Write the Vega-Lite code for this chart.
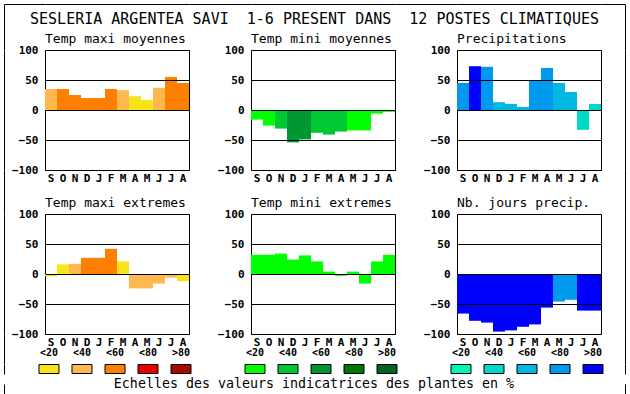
{
  "$schema": "https://vega.github.io/schema/vega-lite/v6.json",
  "background": "white",
  "padding": {"left": 4, "top": 4, "right": 4, "bottom": 4},
  "autosize": {"type": "pad"},
  "title": {
    "text": "SESLERIA ARGENTEA SAVI\u00a0 1-6 PRESENT DANS\u00a0 12 POSTES CLIMATIQUES",
    "anchor": "middle",
    "frame": "bounds",
    "fontSize": 15,
    "baseline": "alphabetic",
    "offset": -34.6
  },
  "config": {
    "font": "DejaVu Sans Mono",
    "view": {"stroke": "black", "strokeWidth": 1},
    "point": {"size": 0},
    "axis": {
      "labelFont": "DejaVu Sans Mono",
      "labelFontSize": 11,
      "labelFontWeight": "bold",
      "labelColor": "black",
      "ticks": false,
      "tickSize": 0,
      "domain": false,
      "domainColor": "black",
      "domainWidth": 1,
      "gridColor": "black",
      "gridOpacity": 1,
      "gridWidth": 1,
      "labelFlush": false,
      "labelOverlap": false
    },
    "title": {
      "font": "DejaVu Sans Mono",
      "fontSize": 13,
      "fontWeight": "normal",
      "color": "black",
      "anchor": "start",
      "frame": "group",
      "baseline": "alphabetic",
      "offset": -1.5
    }
  },
  "datasets": {
    "p1": [
      {"m": "Sep", "v": 35, "c": "maxi <40"},
      {"m": "Oct", "v": 35, "c": "maxi <60"},
      {"m": "Nov", "v": 25, "c": "maxi <60"},
      {"m": "Dec", "v": 20, "c": "maxi <60"},
      {"m": "Jan", "v": 20, "c": "maxi <60"},
      {"m": "Feb", "v": 35, "c": "maxi <60"},
      {"m": "Mar", "v": 33, "c": "maxi <40"},
      {"m": "Apr", "v": 23, "c": "maxi <20"},
      {"m": "May", "v": 17, "c": "maxi <20"},
      {"m": "Jun", "v": 37, "c": "maxi <40"},
      {"m": "Jul", "v": 55, "c": "maxi <60"},
      {"m": "Aug", "v": 45, "c": "maxi <60"}
    ],
    "p2": [
      {"m": "Sep", "v": -16, "c": "mini <20"},
      {"m": "Oct", "v": -26, "c": "mini <20"},
      {"m": "Nov", "v": -31, "c": "mini <40"},
      {"m": "Dec", "v": -54, "c": "mini <60"},
      {"m": "Jan", "v": -49, "c": "mini <60"},
      {"m": "Feb", "v": -38, "c": "mini <40"},
      {"m": "Mar", "v": -41, "c": "mini <40"},
      {"m": "Apr", "v": -36, "c": "mini <40"},
      {"m": "May", "v": -34, "c": "mini <20"},
      {"m": "Jun", "v": -34, "c": "mini <20"},
      {"m": "Jul", "v": -6, "c": "mini <20"},
      {"m": "Aug", "v": -3, "c": "mini <20"}
    ],
    "p3": [
      {"m": "Sep", "v": 45, "c": "prec <80"},
      {"m": "Oct", "v": 73, "c": "prec >80"},
      {"m": "Nov", "v": 72, "c": "prec <80"},
      {"m": "Dec", "v": 13, "c": "prec <60"},
      {"m": "Jan", "v": 10, "c": "prec <60"},
      {"m": "Feb", "v": 5, "c": "prec <60"},
      {"m": "Mar", "v": 50, "c": "prec <80"},
      {"m": "Apr", "v": 70, "c": "prec <80"},
      {"m": "May", "v": 45, "c": "prec <60"},
      {"m": "Jun", "v": 30, "c": "prec <60"},
      {"m": "Jul", "v": -33, "c": "prec <40"},
      {"m": "Aug", "v": 10, "c": "prec <40"}
    ],
    "p4": [
      {"m": "Sep", "v": -4, "c": "maxi <20"},
      {"m": "Oct", "v": 16, "c": "maxi <20"},
      {"m": "Nov", "v": 17, "c": "maxi <40"},
      {"m": "Dec", "v": 27, "c": "maxi <60"},
      {"m": "Jan", "v": 27, "c": "maxi <60"},
      {"m": "Feb", "v": 42, "c": "maxi <60"},
      {"m": "Mar", "v": 21, "c": "maxi <20"},
      {"m": "Apr", "v": -24, "c": "maxi <40"},
      {"m": "May", "v": -24, "c": "maxi <40"},
      {"m": "Jun", "v": -16, "c": "maxi <40"},
      {"m": "Jul", "v": -6, "c": "maxi <40"},
      {"m": "Aug", "v": -12, "c": "maxi <20"}
    ],
    "p5": [
      {"m": "Sep", "v": 32, "c": "mini <20"},
      {"m": "Oct", "v": 32, "c": "mini <20"},
      {"m": "Nov", "v": 34, "c": "mini <20"},
      {"m": "Dec", "v": 24, "c": "mini <20"},
      {"m": "Jan", "v": 31, "c": "mini <20"},
      {"m": "Feb", "v": 21, "c": "mini <20"},
      {"m": "Mar", "v": 4, "c": "mini <20"},
      {"m": "Apr", "v": -3, "c": "mini <20"},
      {"m": "May", "v": 4, "c": "mini <20"},
      {"m": "Jun", "v": -16, "c": "mini <20"},
      {"m": "Jul", "v": 21, "c": "mini <20"},
      {"m": "Aug", "v": 32, "c": "mini <20"}
    ],
    "p6": [
      {"m": "Sep", "v": -66, "c": "prec >80"},
      {"m": "Oct", "v": -78, "c": "prec >80"},
      {"m": "Nov", "v": -81, "c": "prec >80"},
      {"m": "Dec", "v": -96, "c": "prec >80"},
      {"m": "Jan", "v": -94, "c": "prec >80"},
      {"m": "Feb", "v": -88, "c": "prec >80"},
      {"m": "Mar", "v": -84, "c": "prec >80"},
      {"m": "Apr", "v": -56, "c": "prec >80"},
      {"m": "May", "v": -46, "c": "prec <80"},
      {"m": "Jun", "v": -43, "c": "prec <80"},
      {"m": "Jul", "v": -61, "c": "prec >80"},
      {"m": "Aug", "v": -61, "c": "prec >80"}
    ],
    "leg1": [
      {"k": 1, "c": "maxi <20", "lab": "<20"},
      {"k": 2, "c": "maxi <40", "lab": "<40"},
      {"k": 3, "c": "maxi <60", "lab": "<60"},
      {"k": 4, "c": "maxi <80", "lab": "<80"},
      {"k": 5, "c": "maxi >80", "lab": ">80"}
    ],
    "leg2": [
      {"k": 1, "c": "mini <20", "lab": "<20"},
      {"k": 2, "c": "mini <40", "lab": "<40"},
      {"k": 3, "c": "mini <60", "lab": "<60"},
      {"k": 4, "c": "mini <80", "lab": "<80"},
      {"k": 5, "c": "mini >80", "lab": ">80"}
    ],
    "leg3": [
      {"k": 1, "c": "prec <20", "lab": "<20"},
      {"k": 2, "c": "prec <40", "lab": "<40"},
      {"k": 3, "c": "prec <60", "lab": "<60"},
      {"k": 4, "c": "prec <80", "lab": "<80"},
      {"k": 5, "c": "prec >80", "lab": ">80"}
    ]
  },
  "bounds": "flush",
  "align": "each",
  "spacing": 0,
  "columns": 7,
  "concat": [
    {"width": 41, "height": 45.5, "view": {"stroke": null}, "data": {"values": [{}]}, "mark": {"type": "point", "opacity": 0},
     "encoding": {"y": {"datum": 0, "type": "quantitative", "scale": {"domain": [0, 1]}, "axis": {"orient": "left", "labels": false, "title": null, "domain": true, "grid": true, "values": [1]}}}},
    {"width": 144, "height": 45.5, "view": {"stroke": null}, "data": {"values": [{}]}, "mark": {"type": "point", "opacity": 0},
     "encoding": {"y": {"datum": 0, "type": "quantitative", "scale": {"domain": [0, 1]}, "axis": {"orient": "left", "labels": false, "title": null, "domain": false, "grid": true, "values": [1]}}}},
    {"width": 62, "height": 45.5, "view": {"stroke": null}, "data": {"values": [{}]}, "mark": {"type": "point", "opacity": 0},
     "encoding": {"y": {"datum": 0, "type": "quantitative", "scale": {"domain": [0, 1]}, "axis": {"orient": "left", "labels": false, "title": null, "domain": false, "grid": true, "values": [1]}}}},
    {"width": 144, "height": 45.5, "view": {"stroke": null}, "data": {"values": [{}]}, "mark": {"type": "point", "opacity": 0},
     "encoding": {"y": {"datum": 0, "type": "quantitative", "scale": {"domain": [0, 1]}, "axis": {"orient": "left", "labels": false, "title": null, "domain": false, "grid": true, "values": [1]}}}},
    {"width": 62, "height": 45.5, "view": {"stroke": null}, "data": {"values": [{}]}, "mark": {"type": "point", "opacity": 0},
     "encoding": {"y": {"datum": 0, "type": "quantitative", "scale": {"domain": [0, 1]}, "axis": {"orient": "left", "labels": false, "title": null, "domain": false, "grid": true, "values": [1]}}}},
    {"width": 144, "height": 45.5, "view": {"stroke": null}, "data": {"values": [{}]}, "mark": {"type": "point", "opacity": 0},
     "encoding": {"y": {"datum": 0, "type": "quantitative", "scale": {"domain": [0, 1]}, "axis": {"orient": "left", "labels": false, "title": null, "domain": false, "grid": true, "values": [1]}}}},
    {"width": 24, "height": 45.5, "view": {"stroke": null}, "data": {"values": [{}]}, "mark": {"type": "point", "opacity": 0},
     "encoding": {"y": {"datum": 0, "type": "quantitative", "scale": {"domain": [0, 1]}, "axis": {"orient": "right", "labels": false, "title": null, "domain": true, "grid": true, "values": [1]}}}},

    {"width": 41, "height": 120, "view": {"stroke": null}, "data": {"values": [{}]}, "mark": {"type": "point", "opacity": 0},
     "encoding": {"y": {"datum": 0, "type": "quantitative", "scale": {"domain": [0, 1]}, "axis": {"orient": "left", "labels": false, "grid": false, "title": null, "domain": true}}}},
    {
      "width": 144, "height": 120,
      "title": "Temp maxi moyennes",
      "data": {"name": "p1"},
      "mark": "bar",
      "encoding": {
        "x": {"field": "m", "type": "ordinal", "sort": ["Sep","Oct","Nov","Dec","Jan","Feb","Mar","Apr","May","Jun","Jul","Aug"], "scale": {"paddingInner": 0, "paddingOuter": 0}, "axis": {"title": null, "labelExpr": "upper(substring(datum.label,0,1))", "labelAngle": 0, "labelPadding": 2, "grid": false}},
        "y": {"field": "v", "type": "quantitative", "scale": {"domain": [-100, 100], "nice": false, "zero": false}, "axis": {"title": null, "values": [-100, -50, 0, 50, 100], "grid": true, "labelPadding": 7, "zindex": 1}},
        "color": {"field": "c", "type": "nominal", "legend": null, "scale": {"domain": ["maxi <20","maxi <40","maxi <60","maxi <80","maxi >80","mini <20","mini <40","mini <60","mini <80","mini >80","prec <20","prec <40","prec <60","prec <80","prec >80"], "range": ["#F9E41B","#FFB850","#FF8000","#E80000","#A60A00","#00FF00","#00C832","#009632","#007800","#006420","#00F7B4","#00D8C8","#00B8E0","#0099EE","#0000FF"]}}
      }
    },
    {"width": 0, "height": 0, "view": {"stroke": null}, "data": {"values": []}, "mark": "point", "encoding": {}},
    {
      "width": 144, "height": 120,
      "title": "Temp mini moyennes",
      "data": {"name": "p2"},
      "mark": "bar",
      "encoding": {
        "x": {"field": "m", "type": "ordinal", "sort": ["Sep","Oct","Nov","Dec","Jan","Feb","Mar","Apr","May","Jun","Jul","Aug"], "scale": {"paddingInner": 0, "paddingOuter": 0}, "axis": {"title": null, "labelExpr": "upper(substring(datum.label,0,1))", "labelAngle": 0, "labelPadding": 2, "grid": false}},
        "y": {"field": "v", "type": "quantitative", "scale": {"domain": [-100, 100], "nice": false, "zero": false}, "axis": {"title": null, "values": [-100, -50, 0, 50, 100], "grid": true, "labelPadding": 7, "zindex": 1}},
        "color": {"field": "c", "type": "nominal", "legend": null, "scale": {"domain": ["maxi <20","maxi <40","maxi <60","maxi <80","maxi >80","mini <20","mini <40","mini <60","mini <80","mini >80","prec <20","prec <40","prec <60","prec <80","prec >80"], "range": ["#F9E41B","#FFB850","#FF8000","#E80000","#A60A00","#00FF00","#00C832","#009632","#007800","#006420","#00F7B4","#00D8C8","#00B8E0","#0099EE","#0000FF"]}}
      }
    },
    {"width": 0, "height": 0, "view": {"stroke": null}, "data": {"values": []}, "mark": "point", "encoding": {}},
    {
      "width": 144, "height": 120,
      "title": "Precipitations",
      "data": {"name": "p3"},
      "mark": "bar",
      "encoding": {
        "x": {"field": "m", "type": "ordinal", "sort": ["Sep","Oct","Nov","Dec","Jan","Feb","Mar","Apr","May","Jun","Jul","Aug"], "scale": {"paddingInner": 0, "paddingOuter": 0}, "axis": {"title": null, "labelExpr": "upper(substring(datum.label,0,1))", "labelAngle": 0, "labelPadding": 2, "grid": false}},
        "y": {"field": "v", "type": "quantitative", "scale": {"domain": [-100, 100], "nice": false, "zero": false}, "axis": {"title": null, "values": [-100, -50, 0, 50, 100], "grid": true, "labelPadding": 7, "zindex": 1}},
        "color": {"field": "c", "type": "nominal", "legend": null, "scale": {"domain": ["maxi <20","maxi <40","maxi <60","maxi <80","maxi >80","mini <20","mini <40","mini <60","mini <80","mini >80","prec <20","prec <40","prec <60","prec <80","prec >80"], "range": ["#F9E41B","#FFB850","#FF8000","#E80000","#A60A00","#00FF00","#00C832","#009632","#007800","#006420","#00F7B4","#00D8C8","#00B8E0","#0099EE","#0000FF"]}}
      }
    },
    {"width": 24, "height": 120, "view": {"stroke": null}, "data": {"values": [{}]}, "mark": {"type": "point", "opacity": 0},
     "encoding": {"y": {"datum": 0, "type": "quantitative", "scale": {"domain": [0, 1]}, "axis": {"orient": "right", "labels": false, "grid": false, "title": null, "domain": true}}}},

    {"width": 41, "height": 44, "view": {"stroke": null}, "data": {"values": [{}]}, "mark": {"type": "point", "opacity": 0},
     "encoding": {"y": {"datum": 0, "type": "quantitative", "scale": {"domain": [0, 1]}, "axis": {"orient": "left", "labels": false, "grid": false, "title": null, "domain": true}}}},
    {"width": 0, "height": 0, "view": {"stroke": null}, "data": {"values": []}, "mark": "point", "encoding": {}},
    {"width": 0, "height": 0, "view": {"stroke": null}, "data": {"values": []}, "mark": "point", "encoding": {}},
    {"width": 0, "height": 0, "view": {"stroke": null}, "data": {"values": []}, "mark": "point", "encoding": {}},
    {"width": 0, "height": 0, "view": {"stroke": null}, "data": {"values": []}, "mark": "point", "encoding": {}},
    {"width": 0, "height": 0, "view": {"stroke": null}, "data": {"values": []}, "mark": "point", "encoding": {}},
    {"width": 24, "height": 44, "view": {"stroke": null}, "data": {"values": [{}]}, "mark": {"type": "point", "opacity": 0},
     "encoding": {"y": {"datum": 0, "type": "quantitative", "scale": {"domain": [0, 1]}, "axis": {"orient": "right", "labels": false, "grid": false, "title": null, "domain": true}}}},

    {"width": 41, "height": 120, "view": {"stroke": null}, "data": {"values": [{}]}, "mark": {"type": "point", "opacity": 0},
     "encoding": {"y": {"datum": 0, "type": "quantitative", "scale": {"domain": [0, 1]}, "axis": {"orient": "left", "labels": false, "grid": false, "title": null, "domain": true}}}},
    {
      "width": 144, "height": 120,
      "title": "Temp maxi extremes",
      "data": {"name": "p4"},
      "mark": "bar",
      "encoding": {
        "x": {"field": "m", "type": "ordinal", "sort": ["Sep","Oct","Nov","Dec","Jan","Feb","Mar","Apr","May","Jun","Jul","Aug"], "scale": {"paddingInner": 0, "paddingOuter": 0}, "axis": {"title": null, "labelExpr": "upper(substring(datum.label,0,1))", "labelAngle": 0, "labelPadding": 2, "grid": false}},
        "y": {"field": "v", "type": "quantitative", "scale": {"domain": [-100, 100], "nice": false, "zero": false}, "axis": {"title": null, "values": [-100, -50, 0, 50, 100], "grid": true, "labelPadding": 7, "zindex": 1}},
        "color": {"field": "c", "type": "nominal", "legend": null, "scale": {"domain": ["maxi <20","maxi <40","maxi <60","maxi <80","maxi >80","mini <20","mini <40","mini <60","mini <80","mini >80","prec <20","prec <40","prec <60","prec <80","prec >80"], "range": ["#F9E41B","#FFB850","#FF8000","#E80000","#A60A00","#00FF00","#00C832","#009632","#007800","#006420","#00F7B4","#00D8C8","#00B8E0","#0099EE","#0000FF"]}}
      }
    },
    {"width": 0, "height": 0, "view": {"stroke": null}, "data": {"values": []}, "mark": "point", "encoding": {}},
    {
      "width": 144, "height": 120,
      "title": "Temp mini extremes",
      "data": {"name": "p5"},
      "mark": "bar",
      "encoding": {
        "x": {"field": "m", "type": "ordinal", "sort": ["Sep","Oct","Nov","Dec","Jan","Feb","Mar","Apr","May","Jun","Jul","Aug"], "scale": {"paddingInner": 0, "paddingOuter": 0}, "axis": {"title": null, "labelExpr": "upper(substring(datum.label,0,1))", "labelAngle": 0, "labelPadding": 2, "grid": false}},
        "y": {"field": "v", "type": "quantitative", "scale": {"domain": [-100, 100], "nice": false, "zero": false}, "axis": {"title": null, "values": [-100, -50, 0, 50, 100], "grid": true, "labelPadding": 7, "zindex": 1}},
        "color": {"field": "c", "type": "nominal", "legend": null, "scale": {"domain": ["maxi <20","maxi <40","maxi <60","maxi <80","maxi >80","mini <20","mini <40","mini <60","mini <80","mini >80","prec <20","prec <40","prec <60","prec <80","prec >80"], "range": ["#F9E41B","#FFB850","#FF8000","#E80000","#A60A00","#00FF00","#00C832","#009632","#007800","#006420","#00F7B4","#00D8C8","#00B8E0","#0099EE","#0000FF"]}}
      }
    },
    {"width": 0, "height": 0, "view": {"stroke": null}, "data": {"values": []}, "mark": "point", "encoding": {}},
    {
      "width": 144, "height": 120,
      "title": "Nb. jours precip.",
      "data": {"name": "p6"},
      "mark": "bar",
      "encoding": {
        "x": {"field": "m", "type": "ordinal", "sort": ["Sep","Oct","Nov","Dec","Jan","Feb","Mar","Apr","May","Jun","Jul","Aug"], "scale": {"paddingInner": 0, "paddingOuter": 0}, "axis": {"title": null, "labelExpr": "upper(substring(datum.label,0,1))", "labelAngle": 0, "labelPadding": 2, "grid": false}},
        "y": {"field": "v", "type": "quantitative", "scale": {"domain": [-100, 100], "nice": false, "zero": false}, "axis": {"title": null, "values": [-100, -50, 0, 50, 100], "grid": true, "labelPadding": 7, "zindex": 1}},
        "color": {"field": "c", "type": "nominal", "legend": null, "scale": {"domain": ["maxi <20","maxi <40","maxi <60","maxi <80","maxi >80","mini <20","mini <40","mini <60","mini <80","mini >80","prec <20","prec <40","prec <60","prec <80","prec >80"], "range": ["#F9E41B","#FFB850","#FF8000","#E80000","#A60A00","#00FF00","#00C832","#009632","#007800","#006420","#00F7B4","#00D8C8","#00B8E0","#0099EE","#0000FF"]}}
      }
    },
    {"width": 24, "height": 120, "view": {"stroke": null}, "data": {"values": [{}]}, "mark": {"type": "point", "opacity": 0},
     "encoding": {"y": {"datum": 0, "type": "quantitative", "scale": {"domain": [0, 1]}, "axis": {"orient": "right", "labels": false, "grid": false, "title": null, "domain": true}}}},

    {"width": 41, "height": 29.5, "view": {"stroke": null}, "data": {"values": [{}]}, "mark": {"type": "point", "opacity": 0},
     "encoding": {"y": {"datum": 0, "type": "quantitative", "scale": {"domain": [0, 1]}, "axis": {"orient": "left", "labels": false, "grid": false, "title": null, "domain": true}}}},
    {"width": 0, "height": 0, "view": {"stroke": null}, "data": {"values": []}, "mark": "point", "encoding": {}},
    {"width": 0, "height": 0, "view": {"stroke": null}, "data": {"values": []}, "mark": "point", "encoding": {}},
    {"width": 0, "height": 0, "view": {"stroke": null}, "data": {"values": []}, "mark": "point", "encoding": {}},
    {"width": 0, "height": 0, "view": {"stroke": null}, "data": {"values": []}, "mark": "point", "encoding": {}},
    {"width": 0, "height": 0, "view": {"stroke": null}, "data": {"values": []}, "mark": "point", "encoding": {}},
    {"width": 24, "height": 29.5, "view": {"stroke": null}, "data": {"values": [{}]}, "mark": {"type": "point", "opacity": 0},
     "encoding": {"y": {"datum": 0, "type": "quantitative", "scale": {"domain": [0, 1]}, "axis": {"orient": "right", "labels": false, "grid": false, "title": null, "domain": true}}}},

    {"width": 41, "height": 10, "view": {"stroke": null}, "data": {"values": [{}]}, "mark": {"type": "point", "opacity": 0},
     "encoding": {"y": {"datum": 0, "type": "quantitative", "scale": {"domain": [0, 1]}, "axis": {"orient": "left", "labels": false, "grid": false, "title": null, "domain": true}}}},
    {
      "width": 144, "height": 10,
      "view": {"stroke": null},
      "data": {"name": "leg1"},
      "encoding": {"x": {"field": "k", "type": "quantitative", "scale": {"domain": [0.879, 5.242], "nice": false, "zero": false}, "axis": null}},
      "layer": [
        {"mark": {"type": "point", "shape": "M-1,-0.45H1V0.45H-1Z", "size": 400, "filled": true, "opacity": 1, "stroke": "black", "strokeWidth": 1},
         "encoding": {"color": {"field": "c", "type": "nominal", "legend": null, "scale": {"domain": ["maxi <20","maxi <40","maxi <60","maxi <80","maxi >80","mini <20","mini <40","mini <60","mini <80","mini >80","prec <20","prec <40","prec <60","prec <80","prec >80"], "range": ["#F9E41B","#FFB850","#FF8000","#E80000","#A60A00","#00FF00","#00C832","#009632","#007800","#006420","#00F7B4","#00D8C8","#00B8E0","#0099EE","#0000FF"]}}}},
        {"mark": {"type": "text", "dy": -16, "fontSize": 10, "fontWeight": "bold", "font": "DejaVu Sans Mono", "baseline": "middle", "color": "black"},
         "encoding": {"text": {"field": "lab"}}}
      ]
    },
    {"width": 0, "height": 0, "view": {"stroke": null}, "data": {"values": []}, "mark": "point", "encoding": {}},
    {
      "width": 144, "height": 10,
      "view": {"stroke": null},
      "data": {"name": "leg2"},
      "encoding": {"x": {"field": "k", "type": "quantitative", "scale": {"domain": [0.879, 5.242], "nice": false, "zero": false}, "axis": null}},
      "layer": [
        {"mark": {"type": "point", "shape": "M-1,-0.45H1V0.45H-1Z", "size": 400, "filled": true, "opacity": 1, "stroke": "black", "strokeWidth": 1},
         "encoding": {"color": {"field": "c", "type": "nominal", "legend": null, "scale": {"domain": ["maxi <20","maxi <40","maxi <60","maxi <80","maxi >80","mini <20","mini <40","mini <60","mini <80","mini >80","prec <20","prec <40","prec <60","prec <80","prec >80"], "range": ["#F9E41B","#FFB850","#FF8000","#E80000","#A60A00","#00FF00","#00C832","#009632","#007800","#006420","#00F7B4","#00D8C8","#00B8E0","#0099EE","#0000FF"]}}}},
        {"mark": {"type": "text", "dy": -16, "fontSize": 10, "fontWeight": "bold", "font": "DejaVu Sans Mono", "baseline": "middle", "color": "black"},
         "encoding": {"text": {"field": "lab"}}}
      ]
    },
    {"width": 0, "height": 0, "view": {"stroke": null}, "data": {"values": []}, "mark": "point", "encoding": {}},
    {
      "width": 144, "height": 10,
      "view": {"stroke": null},
      "data": {"name": "leg3"},
      "encoding": {"x": {"field": "k", "type": "quantitative", "scale": {"domain": [0.879, 5.242], "nice": false, "zero": false}, "axis": null}},
      "layer": [
        {"mark": {"type": "point", "shape": "M-1,-0.45H1V0.45H-1Z", "size": 400, "filled": true, "opacity": 1, "stroke": "black", "strokeWidth": 1},
         "encoding": {"color": {"field": "c", "type": "nominal", "legend": null, "scale": {"domain": ["maxi <20","maxi <40","maxi <60","maxi <80","maxi >80","mini <20","mini <40","mini <60","mini <80","mini >80","prec <20","prec <40","prec <60","prec <80","prec >80"], "range": ["#F9E41B","#FFB850","#FF8000","#E80000","#A60A00","#00FF00","#00C832","#009632","#007800","#006420","#00F7B4","#00D8C8","#00B8E0","#0099EE","#0000FF"]}}}},
        {"mark": {"type": "text", "dy": -16, "fontSize": 10, "fontWeight": "bold", "font": "DejaVu Sans Mono", "baseline": "middle", "color": "black"},
         "encoding": {"text": {"field": "lab"}}}
      ]
    },
    {"width": 24, "height": 10, "view": {"stroke": null}, "data": {"values": [{}]}, "mark": {"type": "point", "opacity": 0},
     "encoding": {"y": {"datum": 0, "type": "quantitative", "scale": {"domain": [0, 1]}, "axis": {"orient": "right", "labels": false, "grid": false, "title": null, "domain": true}}}},

    {"width": 41, "height": 16, "view": {"stroke": null}, "data": {"values": [{}]}, "mark": {"type": "point", "opacity": 0},
     "encoding": {"y": {"datum": 1, "type": "quantitative", "scale": {"domain": [0, 1]}, "axis": {"orient": "left", "labels": false, "title": null, "domain": true, "grid": true, "values": [0]}}}},
    {"width": 144, "height": 16, "view": {"stroke": null}, "data": {"values": [{}]}, "mark": {"type": "point", "opacity": 0},
     "encoding": {"y": {"datum": 1, "type": "quantitative", "scale": {"domain": [0, 1]}, "axis": {"orient": "left", "labels": false, "title": null, "domain": false, "grid": true, "values": [0]}}}},
    {"width": 62, "height": 16, "view": {"stroke": null}, "data": {"values": [{}]}, "mark": {"type": "point", "opacity": 0},
     "encoding": {"y": {"datum": 1, "type": "quantitative", "scale": {"domain": [0, 1]}, "axis": {"orient": "left", "labels": false, "title": null, "domain": false, "grid": true, "values": [0]}}}},
    {"width": 144, "height": 16, "view": {"stroke": null}, "data": {"values": [{}]},
     "layer": [
       {"mark": {"type": "point", "opacity": 0},
        "encoding": {"y": {"datum": 1, "type": "quantitative", "scale": {"domain": [0, 1]}, "axis": {"orient": "left", "labels": false, "title": null, "domain": false, "grid": true, "values": [0]}}}},
       {"mark": {"type": "text", "text": "Echelles des valeurs indicatrices des plantes en %", "dx": -9, "dy": -4.5, "baseline": "alphabetic", "align": "center", "fontSize": 13.3, "font": "DejaVu Sans Mono", "color": "black"}, "encoding": {}}
     ]},
    {"width": 62, "height": 16, "view": {"stroke": null}, "data": {"values": [{}]}, "mark": {"type": "point", "opacity": 0},
     "encoding": {"y": {"datum": 1, "type": "quantitative", "scale": {"domain": [0, 1]}, "axis": {"orient": "left", "labels": false, "title": null, "domain": false, "grid": true, "values": [0]}}}},
    {"width": 144, "height": 16, "view": {"stroke": null}, "data": {"values": [{}]}, "mark": {"type": "point", "opacity": 0},
     "encoding": {"y": {"datum": 1, "type": "quantitative", "scale": {"domain": [0, 1]}, "axis": {"orient": "left", "labels": false, "title": null, "domain": false, "grid": true, "values": [0]}}}},
    {"width": 24, "height": 16, "view": {"stroke": null}, "data": {"values": [{}]}, "mark": {"type": "point", "opacity": 0},
     "encoding": {"y": {"datum": 1, "type": "quantitative", "scale": {"domain": [0, 1]}, "axis": {"orient": "right", "labels": false, "title": null, "domain": true, "grid": true, "values": [0]}}}}
  ]
}
